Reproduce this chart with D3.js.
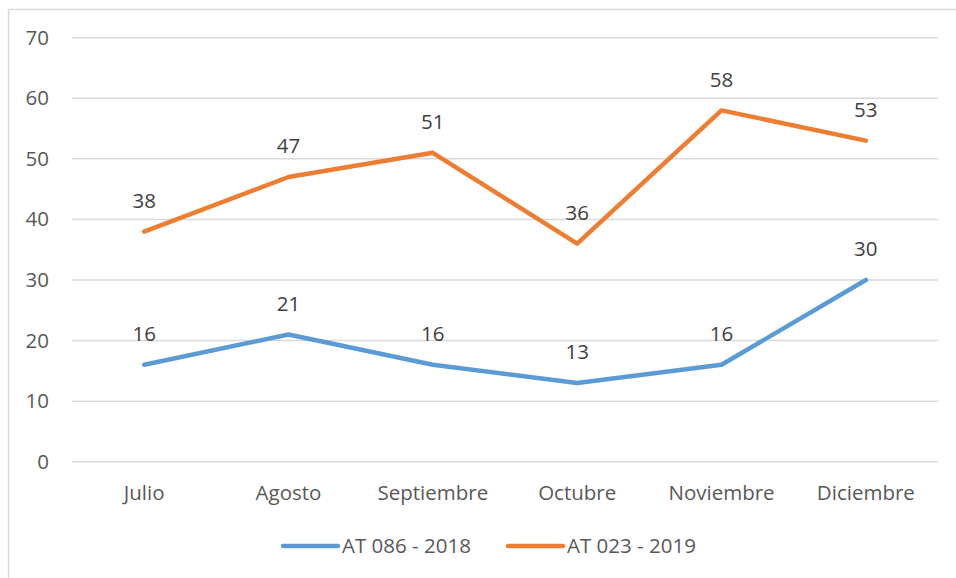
<!DOCTYPE html>
<html>
<head>
<meta charset="utf-8">
<script src="https://cdn.jsdelivr.net/npm/d3@7"></script>
<style>
  html, body { margin: 0; padding: 0; background: #fff; }
  svg { display: block; font-family: "Open Sans", "Liberation Sans", sans-serif; }
</style>
</head>
<body>
<svg id="chart" width="956" height="578"></svg>
<script>
// Monthly counts per record series
const months = ["Julio", "Agosto", "Septiembre", "Octubre", "Noviembre", "Diciembre"];
const seriesNames = ["AT 086 - 2018", "AT 023 - 2019"];
const at086_2018 = [16, 21, 16, 13, 16, 30];
const at023_2019 = [38, 47, 51, 36, 58, 53];
const yTicks = [0, 10, 20, 30, 40, 50, 60, 70];
const colors = ["#5B9BD5", "#ED7D31"];

const FONT = "'Open Sans', 'Liberation Sans', sans-serif";
const FS = 20.5;

const svg = d3.select("#chart");

// Outer chart frame (top and left edges)
svg.append("path")
  .attr("d", "M8.5,578 V9.5 H956")
  .attr("fill", "none")
  .attr("stroke", "#D9D9D9")
  .attr("stroke-width", 1.5);

const x = d3.scaleBand().domain(months).range([72, 938]);
const y = d3.scaleLinear().domain([0, 70]).range([461.7, 37.7]);

// Horizontal gridlines
svg.append("g").selectAll("line").data(yTicks).join("line")
  .attr("x1", 72).attr("x2", 938)
  .attr("y1", d => y(d)).attr("y2", d => y(d))
  .attr("stroke", "#D9D9D9").attr("stroke-width", 1.5);

// Y axis labels
const yAxis = d3.axisLeft(y).tickValues(yTicks).tickSize(0).tickPadding(0);
svg.append("g")
  .attr("transform", "translate(49,0)")
  .call(yAxis)
  .call(g => g.select(".domain").remove())
  .call(g => g.selectAll("text")
    .attr("fill", "#595959")
    .attr("font-size", FS)
    .attr("font-family", FONT));

// X axis labels
const xAxis = d3.axisBottom(x).tickSize(0).tickPadding(0);
svg.append("g")
  .attr("transform", "translate(0,485)")
  .call(xAxis)
  .call(g => g.select(".domain").remove())
  .call(g => g.selectAll("text")
    .attr("fill", "#595959")
    .attr("font-size", FS)
    .attr("font-family", FONT));

const cx = m => x(m) + x.bandwidth() / 2;
const line = d3.line().x((d, i) => cx(months[i])).y(d => y(d));

[at086_2018, at023_2019].forEach((vals, k) => {
  svg.append("path")
    .datum(vals)
    .attr("d", line)
    .attr("fill", "none")
    .attr("stroke", colors[k])
    .attr("stroke-width", 4.5)
    .attr("stroke-linecap", "round")
    .attr("stroke-linejoin", "round");

  svg.append("g").selectAll("text").data(vals).join("text")
    .attr("x", (d, i) => cx(months[i]))
    .attr("y", d => y(d) - 31)
    .attr("dy", "0.35em")
    .attr("text-anchor", "middle")
    .attr("fill", "#404040")
    .attr("font-size", FS)
    .text(d => d);
});

// Legend
const legendItems = [
  { name: seriesNames[0], color: colors[0], x0: 283 },
  { name: seriesNames[1], color: colors[1], x0: 508 }
];
const lg = svg.append("g").selectAll("g").data(legendItems).join("g");
lg.append("line")
  .attr("x1", d => d.x0).attr("x2", d => d.x0 + 55)
  .attr("y1", 546).attr("y2", 546)
  .attr("stroke", d => d.color)
  .attr("stroke-width", 4.5)
  .attr("stroke-linecap", "round");
lg.append("text")
  .attr("x", d => d.x0 + 59)
  .attr("y", 546)
  .attr("dy", "0.35em")
  .attr("fill", "#595959")
  .attr("font-size", FS)
  .text(d => d.name);
</script>
</body>
</html>
